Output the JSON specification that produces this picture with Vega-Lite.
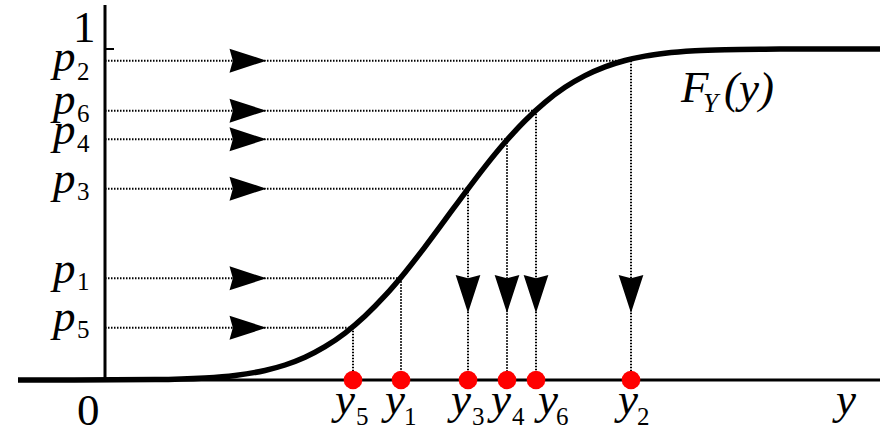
{
  "$schema": "https://vega.github.io/schema/vega-lite/v6.json",
  "width": 889,
  "height": 430,
  "autosize": {"type": "none"},
  "padding": 0,
  "background": "white",
  "config": {"view": {"stroke": null}},
  "datasets": {
    "curve": [
      {"yv": -0.87, "F": 0.0},
      {"yv": 0.5, "F": 0.00122},
      {"yv": 1.0, "F": 0.00595},
      {"yv": 1.3, "F": 0.0137},
      {"yv": 1.6, "F": 0.0289},
      {"yv": 1.8, "F": 0.0454},
      {"yv": 2.0, "F": 0.0688},
      {"yv": 2.2, "F": 0.1006},
      {"yv": 2.4, "F": 0.1418},
      {"yv": 2.6, "F": 0.1933},
      {"yv": 2.8, "F": 0.2547},
      {"yv": 3.0, "F": 0.325},
      {"yv": 3.2, "F": 0.4024},
      {"yv": 3.4, "F": 0.4836},
      {"yv": 3.6, "F": 0.5655},
      {"yv": 3.8, "F": 0.6447},
      {"yv": 4.0, "F": 0.7181},
      {"yv": 4.2, "F": 0.7834},
      {"yv": 4.4, "F": 0.8389},
      {"yv": 4.6, "F": 0.8842},
      {"yv": 4.8, "F": 0.9196},
      {"yv": 5.0, "F": 0.9461},
      {"yv": 5.2, "F": 0.9652},
      {"yv": 5.4, "F": 0.9784},
      {"yv": 5.6, "F": 0.987},
      {"yv": 5.9, "F": 0.9944},
      {"yv": 6.2, "F": 0.9978},
      {"yv": 6.6, "F": 0.9994},
      {"yv": 7.0, "F": 0.9999},
      {"yv": 7.75, "F": 1.0}
    ],
    "samples": [
      {"i": 1, "p": 0.3073, "yv": 2.96, "zero": 0, "hx": 1.43, "ah": 0.26},
      {"i": 2, "p": 0.9647, "yv": 5.26, "zero": 0, "hx": 1.43, "ah": 0.26},
      {"i": 3, "p": 0.578, "yv": 3.63, "zero": 0, "hx": 1.43, "ah": 0.26},
      {"i": 4, "p": 0.7272, "yv": 4.02, "zero": 0, "hx": 1.43, "ah": 0.26},
      {"i": 5, "p": 0.158, "yv": 2.48, "zero": 0, "hx": 1.43, "ah": 0.26},
      {"i": 6, "p": 0.8136, "yv": 4.31, "zero": 0, "hx": 1.43, "ah": 0.26}
    ],
    "hAxis": [{"x": -0.87, "x2": 7.75, "y": 0}],
    "vAxis": [{"x": 0, "y": 0, "y2": 1.133}],
    "tick": [{"x": 0, "x2": 0.09, "y": 1}],
    "labels": [
      {"t": "p", "kind": "main", "x": -0.52, "y": 0.9335},
      {"t": "p", "kind": "main", "x": -0.52, "y": 0.8036},
      {"t": "p", "kind": "main", "x": -0.52, "y": 0.713},
      {"t": "p", "kind": "main", "x": -0.52, "y": 0.565},
      {"t": "p", "kind": "main", "x": -0.52, "y": 0.2931},
      {"t": "p", "kind": "main", "x": -0.52, "y": 0.148},
      {"t": "2", "kind": "sub", "x": -0.28, "y": 0.9063},
      {"t": "6", "kind": "sub", "x": -0.28, "y": 0.7795},
      {"t": "4", "kind": "sub", "x": -0.28, "y": 0.6888},
      {"t": "3", "kind": "sub", "x": -0.28, "y": 0.5438},
      {"t": "1", "kind": "sub", "x": -0.28, "y": 0.2719},
      {"t": "5", "kind": "sub", "x": -0.28, "y": 0.1269},
      {"t": "y", "kind": "main", "x": 2.3, "y": -0.1027},
      {"t": "y", "kind": "main", "x": 2.8, "y": -0.1027},
      {"t": "y", "kind": "main", "x": 3.46, "y": -0.1027},
      {"t": "y", "kind": "main", "x": 3.86, "y": -0.1027},
      {"t": "y", "kind": "main", "x": 4.33, "y": -0.1027},
      {"t": "y", "kind": "main", "x": 5.13, "y": -0.1027},
      {"t": "5", "kind": "sub", "x": 2.51, "y": -0.136},
      {"t": "1", "kind": "sub", "x": 2.99, "y": -0.136},
      {"t": "3", "kind": "sub", "x": 3.67, "y": -0.136},
      {"t": "4", "kind": "sub", "x": 4.07, "y": -0.136},
      {"t": "6", "kind": "sub", "x": 4.51, "y": -0.136},
      {"t": "2", "kind": "sub", "x": 5.32, "y": -0.136},
      {"t": "0", "kind": "num", "x": -0.28, "y": -0.135},
      {"t": "1", "kind": "num", "x": -0.32, "y": 1.0211},
      {"t": "y", "kind": "main", "x": 7.31, "y": -0.1027},
      {"t": "F", "kind": "main", "x": 5.76, "y": 0.8399},
      {"t": "Y", "kind": "subY", "x": 5.98, "y": 0.8097},
      {"t": "(y)", "kind": "main", "x": 6.19, "y": 0.8369}
    ]
  },
  "layer": [
    {
      "data": {"name": "samples"},
      "mark": {"type": "rule", "color": "black", "strokeWidth": 2, "strokeDash": [1.5, 1.5]},
      "encoding": {
        "x": {"field": "zero", "type": "quantitative", "scale": {"domain": [-1.05, 7.84], "nice": false, "zero": false}, "axis": null},
        "x2": {"field": "yv"},
        "y": {"field": "p", "type": "quantitative", "scale": {"domain": [-0.151, 1.148], "nice": false, "zero": false}, "axis": null}
      }
    },
    {
      "data": {"name": "samples"},
      "mark": {"type": "rule", "color": "black", "strokeWidth": 2, "strokeDash": [1.5, 1.5]},
      "encoding": {
        "x": {"field": "yv", "type": "quantitative", "scale": {"domain": [-1.05, 7.84], "nice": false, "zero": false}, "axis": null},
        "y": {"field": "p", "type": "quantitative", "scale": {"domain": [-0.151, 1.148], "nice": false, "zero": false}, "axis": null},
        "y2": {"field": "zero"}
      }
    },
    {
      "data": {"name": "hAxis"},
      "mark": {"type": "rule", "color": "black", "strokeWidth": 3},
      "encoding": {
        "x": {"field": "x", "type": "quantitative", "scale": {"domain": [-1.05, 7.84], "nice": false, "zero": false}, "axis": null},
        "x2": {"field": "x2"},
        "y": {"field": "y", "type": "quantitative", "scale": {"domain": [-0.151, 1.148], "nice": false, "zero": false}, "axis": null}
      }
    },
    {
      "data": {"name": "vAxis"},
      "mark": {"type": "rule", "color": "black", "strokeWidth": 3},
      "encoding": {
        "x": {"field": "x", "type": "quantitative", "scale": {"domain": [-1.05, 7.84], "nice": false, "zero": false}, "axis": null},
        "y": {"field": "y", "type": "quantitative", "scale": {"domain": [-0.151, 1.148], "nice": false, "zero": false}, "axis": null},
        "y2": {"field": "y2"}
      }
    },
    {
      "data": {"name": "tick"},
      "mark": {"type": "rule", "color": "black", "strokeWidth": 2},
      "encoding": {
        "x": {"field": "x", "type": "quantitative", "scale": {"domain": [-1.05, 7.84], "nice": false, "zero": false}, "axis": null},
        "x2": {"field": "x2"},
        "y": {"field": "y", "type": "quantitative", "scale": {"domain": [-0.151, 1.148], "nice": false, "zero": false}, "axis": null}
      }
    },
    {
      "data": {"name": "curve"},
      "mark": {"type": "line", "color": "black", "strokeWidth": 5.5, "interpolate": "monotone", "strokeCap": "butt"},
      "encoding": {
        "x": {"field": "yv", "type": "quantitative", "scale": {"domain": [-1.05, 7.84], "nice": false, "zero": false}, "axis": null},
        "y": {"field": "F", "type": "quantitative", "scale": {"domain": [-0.151, 1.148], "nice": false, "zero": false}, "axis": null}
      }
    },
    {
      "data": {"name": "samples"},
      "mark": {"type": "point", "filled": true, "color": "black", "opacity": 1, "size": 1369, "shape": "M -1 -0.65 L 1 0 L -1 0.65 L -0.82 0 Z"},
      "encoding": {
        "x": {"field": "hx", "type": "quantitative", "scale": {"domain": [-1.05, 7.84], "nice": false, "zero": false}, "axis": null},
        "y": {"field": "p", "type": "quantitative", "scale": {"domain": [-0.151, 1.148], "nice": false, "zero": false}, "axis": null}
      }
    },
    {
      "data": {"name": "samples"},
      "transform": [{"filter": "datum.p > 0.4"}],
      "mark": {"type": "point", "filled": true, "color": "black", "opacity": 1, "size": 1444, "shape": "M -0.65 -1 L 0 -0.83 L 0.65 -1 L 0 1 Z"},
      "encoding": {
        "x": {"field": "yv", "type": "quantitative", "scale": {"domain": [-1.05, 7.84], "nice": false, "zero": false}, "axis": null},
        "y": {"field": "ah", "type": "quantitative", "scale": {"domain": [-0.151, 1.148], "nice": false, "zero": false}, "axis": null}
      }
    },
    {
      "data": {"name": "samples"},
      "mark": {"type": "point", "filled": true, "color": "#ff0000", "opacity": 1, "size": 346, "shape": "circle"},
      "encoding": {
        "x": {"field": "yv", "type": "quantitative", "scale": {"domain": [-1.05, 7.84], "nice": false, "zero": false}, "axis": null},
        "y": {"field": "zero", "type": "quantitative", "scale": {"domain": [-0.151, 1.148], "nice": false, "zero": false}, "axis": null}
      }
    },
    {
      "data": {"name": "labels"},
      "transform": [{"filter": "datum.kind == 'main'"}],
      "mark": {"type": "text", "align": "left", "baseline": "alphabetic", "font": "Liberation Serif", "fontStyle": "italic", "fontSize": 45, "color": "black"},
      "encoding": {
        "x": {"field": "x", "type": "quantitative", "scale": {"domain": [-1.05, 7.84], "nice": false, "zero": false}, "axis": null},
        "y": {"field": "y", "type": "quantitative", "scale": {"domain": [-0.151, 1.148], "nice": false, "zero": false}, "axis": null},
        "text": {"field": "t"}
      }
    },
    {
      "data": {"name": "labels"},
      "transform": [{"filter": "datum.kind == 'sub'"}],
      "mark": {"type": "text", "align": "left", "baseline": "alphabetic", "font": "Liberation Serif", "fontSize": 25, "color": "black"},
      "encoding": {
        "x": {"field": "x", "type": "quantitative", "scale": {"domain": [-1.05, 7.84], "nice": false, "zero": false}, "axis": null},
        "y": {"field": "y", "type": "quantitative", "scale": {"domain": [-0.151, 1.148], "nice": false, "zero": false}, "axis": null},
        "text": {"field": "t"}
      }
    },
    {
      "data": {"name": "labels"},
      "transform": [{"filter": "datum.kind == 'num'"}],
      "mark": {"type": "text", "align": "left", "baseline": "alphabetic", "font": "Liberation Serif", "fontSize": 45, "color": "black"},
      "encoding": {
        "x": {"field": "x", "type": "quantitative", "scale": {"domain": [-1.05, 7.84], "nice": false, "zero": false}, "axis": null},
        "y": {"field": "y", "type": "quantitative", "scale": {"domain": [-0.151, 1.148], "nice": false, "zero": false}, "axis": null},
        "text": {"field": "t"}
      }
    },
    {
      "data": {"name": "labels"},
      "transform": [{"filter": "datum.kind == 'subY'"}],
      "mark": {"type": "text", "align": "left", "baseline": "alphabetic", "font": "Liberation Serif", "fontStyle": "italic", "fontSize": 27, "color": "black"},
      "encoding": {
        "x": {"field": "x", "type": "quantitative", "scale": {"domain": [-1.05, 7.84], "nice": false, "zero": false}, "axis": null},
        "y": {"field": "y", "type": "quantitative", "scale": {"domain": [-0.151, 1.148], "nice": false, "zero": false}, "axis": null},
        "text": {"field": "t"}
      }
    }
  ]
}
